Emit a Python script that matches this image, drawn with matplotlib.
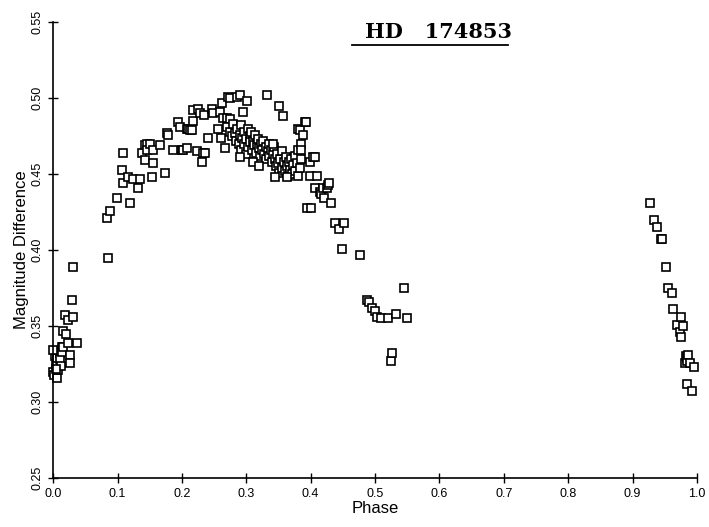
import matplotlib
matplotlib.use("Agg")
import matplotlib.pyplot as plt
import numpy as np

# phase 0.00 - 0.04 (start of light curve)
ph_a = [0.000, 0.002, 0.003, 0.005, 0.006, 0.006, 0.008, 0.010, 0.011, 0.012, 0.014, 0.014,
        0.016, 0.016, 0.019, 0.020, 0.023, 0.023, 0.026, 0.026, 0.029, 0.031, 0.031, 0.037, 0.000, 0.004]
mag_a = [0.320, 0.318, 0.330, 0.326, 0.329, 0.316, 0.321, 0.332, 0.328, 0.324, 0.336, 0.333,
         0.347, 0.336, 0.357, 0.345, 0.354, 0.339, 0.331, 0.326, 0.367, 0.389, 0.356, 0.339, 0.334, 0.322]

# rising branch and maximum
ph_b = [0.085, 0.083, 0.088, 0.099, 0.107, 0.109, 0.109, 0.116, 0.120, 0.124, 0.132, 0.135,
        0.138, 0.143, 0.143, 0.146, 0.146, 0.151, 0.154, 0.155, 0.155, 0.166, 0.174, 0.177, 0.179,
        0.186, 0.194, 0.197, 0.200, 0.202, 0.208, 0.208, 0.210, 0.213, 0.216, 0.217, 0.217, 0.224,
        0.225, 0.228, 0.231, 0.233, 0.234, 0.236, 0.241, 0.247, 0.249, 0.256, 0.259, 0.261, 0.262,
        0.264, 0.267, 0.270, 0.272, 0.275, 0.275, 0.286, 0.290, 0.295, 0.301, 0.332, 0.351, 0.357]
mag_b = [0.395, 0.421, 0.426, 0.434, 0.453, 0.464, 0.444, 0.448, 0.431, 0.447, 0.441, 0.447,
         0.464, 0.469, 0.459, 0.470, 0.466, 0.470, 0.448, 0.466, 0.457, 0.469, 0.451, 0.477, 0.476,
         0.466, 0.484, 0.481, 0.466, 0.466, 0.480, 0.467, 0.480, 0.479, 0.479, 0.485, 0.492, 0.465,
         0.493, 0.490, 0.458, 0.464, 0.489, 0.464, 0.474, 0.493, 0.490, 0.480, 0.491, 0.474, 0.497,
         0.487, 0.467, 0.487, 0.501, 0.500, 0.486, 0.501, 0.502, 0.491, 0.498, 0.502, 0.495, 0.488]

# dense band after maximum
ph_c = [0.270, 0.275, 0.278, 0.280, 0.282, 0.284, 0.286, 0.288, 0.290, 0.291, 0.292, 0.294,
        0.296, 0.297, 0.299, 0.300, 0.302, 0.303, 0.305, 0.306, 0.308, 0.309, 0.310, 0.312, 0.313,
        0.315, 0.316, 0.318, 0.320, 0.321, 0.323, 0.325, 0.326, 0.328, 0.330, 0.331, 0.333, 0.335,
        0.336, 0.338, 0.340, 0.341, 0.343, 0.345, 0.346, 0.348, 0.350, 0.351, 0.353, 0.355, 0.356,
        0.358, 0.360, 0.361, 0.363, 0.365, 0.366, 0.368, 0.370, 0.371, 0.373, 0.375, 0.376, 0.378,
        0.380, 0.381, 0.383, 0.385, 0.290, 0.311, 0.320, 0.342, 0.345, 0.363]
mag_c = [0.481, 0.478, 0.475, 0.483, 0.477, 0.472, 0.480, 0.470, 0.476, 0.466, 0.482, 0.474,
         0.470, 0.478, 0.463, 0.473, 0.480, 0.468, 0.475, 0.471, 0.478, 0.466, 0.472, 0.469, 0.476,
         0.464, 0.470, 0.473, 0.467, 0.462, 0.470, 0.466, 0.472, 0.463, 0.468, 0.460, 0.465, 0.470,
         0.462, 0.466, 0.458, 0.463, 0.468, 0.460, 0.455, 0.463, 0.457, 0.451, 0.460, 0.454, 0.465,
         0.458, 0.452, 0.461, 0.455, 0.449, 0.458, 0.453, 0.460, 0.450, 0.456, 0.462, 0.452, 0.457,
         0.466, 0.449, 0.454, 0.460, 0.461, 0.458, 0.455, 0.470, 0.448, 0.448]

# descending branch
ph_d = [0.380, 0.384, 0.385, 0.385, 0.388, 0.391, 0.393, 0.394, 0.399, 0.399, 0.400, 0.404,
        0.407, 0.407, 0.410, 0.415, 0.416, 0.419, 0.421, 0.425, 0.427, 0.429, 0.432, 0.438, 0.444,
        0.449, 0.452, 0.477]
mag_d = [0.480, 0.479, 0.470, 0.466, 0.476, 0.484, 0.484, 0.428, 0.458, 0.449, 0.428, 0.461,
         0.461, 0.441, 0.449, 0.438, 0.437, 0.441, 0.434, 0.441, 0.443, 0.444, 0.431, 0.418, 0.414,
         0.401, 0.418, 0.397]

# secondary minimum
ph_e = [0.487, 0.490, 0.495, 0.500, 0.503, 0.510, 0.520, 0.525, 0.527, 0.533, 0.545, 0.550]
mag_e = [0.367, 0.366, 0.362, 0.360, 0.356, 0.355, 0.355, 0.327, 0.332, 0.358, 0.375, 0.355]

# end of cycle
ph_f = [0.927, 0.933, 0.938, 0.944, 0.946, 0.952, 0.955, 0.961, 0.963, 0.969, 0.973, 0.975,
        0.976, 0.978, 0.981, 0.983, 0.984, 0.985, 0.986, 0.989, 0.995, 0.984, 0.992]
mag_f = [0.431, 0.420, 0.415, 0.407, 0.407, 0.389, 0.375, 0.372, 0.361, 0.351, 0.346, 0.356,
         0.343, 0.350, 0.326, 0.330, 0.329, 0.327, 0.331, 0.326, 0.323, 0.312, 0.307]

phase = ph_a + ph_b + ph_c + ph_d + ph_e + ph_f
mag = mag_a + mag_b + mag_c + mag_d + mag_e + mag_f

fig = plt.figure(figsize=(7.09, 5.27), dpi=100)
ax = fig.add_axes([0.075, 0.093, 0.908, 0.865])

ax.plot(phase, mag, ls="none", marker="s", ms=5.5, mfc="white", mec="black",
        mew=1.2, clip_on=False)

ax.set_xlim(0, 1.0)
ax.set_ylim(0.25, 0.55)
ax.set_xticks(np.arange(0, 1.01, 0.1))
ax.set_yticks(np.arange(0.25, 0.551, 0.05))
ax.set_xticklabels(["%.1f" % v for v in np.arange(0, 1.01, 0.1)],
                   family="Liberation Sans", fontsize=9)
ax.set_yticklabels(["%.2f" % v for v in np.arange(0.25, 0.551, 0.05)],
                   family="Liberation Sans", fontsize=9, rotation=90, va="center")
ax.tick_params(direction="inout", length=7, width=1, colors="black")

ax.spines["top"].set_visible(False)
ax.spines["right"].set_visible(False)
ax.spines["left"].set_linewidth(1.2)
ax.spines["bottom"].set_linewidth(1.2)

ax.set_xlabel("Phase", family="Liberation Sans", fontsize=12, labelpad=1)
ax.set_ylabel("Magnitude Difference", family="Liberation Sans", fontsize=12, labelpad=2)

# title with underline
ax.text(0.484, 1.0, "HD   174853", transform=ax.transAxes, ha="left", va="top",
        family="DejaVu Serif", fontsize=15, fontweight="bold")
ax.plot([0.464, 0.707], [0.95, 0.95], transform=ax.transAxes, color="black", lw=1.3,
        clip_on=False)

fig.savefig("out.png", dpi=100)
